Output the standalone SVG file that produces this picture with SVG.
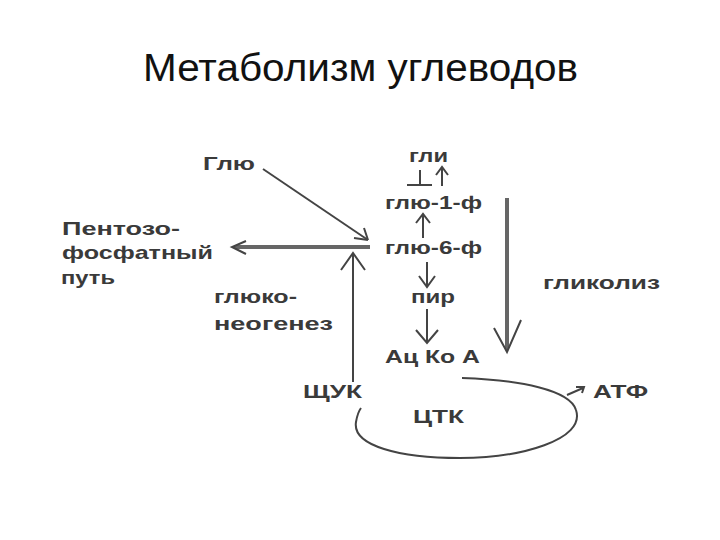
<svg xmlns="http://www.w3.org/2000/svg" width="720" height="540" viewBox="0 0 720 540">
<style>
.t{font-family:"Liberation Sans",Arial,sans-serif;font-weight:bold;font-size:19px;fill:#3a3a3a}
.title{font-family:"Liberation Sans",Arial,sans-serif;font-size:38px;fill:#111}
.ln{stroke:#444;stroke-width:2;fill:none}
.thick{stroke:#666;stroke-width:4;fill:none}
</style>
<rect width="720" height="540" fill="#fff"/>
<text class="title" x="143" y="81" textLength="435" lengthAdjust="spacingAndGlyphs">Метаболизм углеводов</text>
<g id="n-glu"><text class="t" x="203" y="170" textLength="52" lengthAdjust="spacingAndGlyphs">Глю</text></g>
<g id="n-gli"><text class="t" x="409" y="162" textLength="39" lengthAdjust="spacingAndGlyphs">гли</text></g>
<g id="n-g1p"><text class="t" x="385" y="209" textLength="97" lengthAdjust="spacingAndGlyphs">глю-1-ф</text></g>
<g id="n-g6p"><text class="t" x="385" y="254" textLength="97" lengthAdjust="spacingAndGlyphs">глю-6-ф</text></g>
<g id="n-pfp">
<text class="t" x="62" y="235" textLength="118" lengthAdjust="spacingAndGlyphs">Пентозо-</text>
<text class="t" x="62" y="259" textLength="151" lengthAdjust="spacingAndGlyphs">фосфатный</text>
<text class="t" x="61" y="284" textLength="54" lengthAdjust="spacingAndGlyphs">путь</text>
</g>
<g id="n-gng">
<text class="t" x="214" y="303" textLength="83" lengthAdjust="spacingAndGlyphs">глюко-</text>
<text class="t" x="214" y="330" textLength="119" lengthAdjust="spacingAndGlyphs">неогенез</text>
</g>
<g id="n-pir"><text class="t" x="411" y="303" textLength="44" lengthAdjust="spacingAndGlyphs">пир</text></g>
<g id="n-acoa"><text class="t" x="385" y="363" textLength="95" lengthAdjust="spacingAndGlyphs">Ац Ко А</text></g>
<g id="n-glycolysis"><text class="t" x="543" y="289" textLength="117" lengthAdjust="spacingAndGlyphs">гликолиз</text></g>
<g id="n-oaa"><text class="t" x="303" y="398" textLength="59" lengthAdjust="spacingAndGlyphs">ЩУК</text></g>
<g id="n-tca"><text class="t" x="413" y="423" textLength="51" lengthAdjust="spacingAndGlyphs">ЦТК</text></g>
<g id="n-atp"><text class="t" x="593" y="398" textLength="55" lengthAdjust="spacingAndGlyphs">АТФ</text></g>
<g id="connectors">
<!-- Glu to glu-6-P -->
<path class="ln" d="M263 169 L368 240"/>
<path class="ln" d="M368 240 L354 238 M368 240 L364 228"/>
<!-- gli <-> glu-1-P -->
<path class="ln" d="M420 170 V185 M407 185 H432"/>
<path class="ln" d="M442 186 V168 M436 175 L442 167 L448 175"/>
<!-- glu-6-P -> glu-1-P -->
<path class="ln" d="M423 238 V215 M416 223 L423 214 L430 223"/>
<!-- glu-6-P -> pentose phosphate -->
<path class="thick" d="M370 247 H234"/>
<path class="ln" d="M246 241 L232 247 L246 254"/>
<!-- glu-6-P -> pir -->
<path class="ln" d="M427 262 V286 M419 276 L427 287 L435 276"/>
<!-- pir -> AcCoA -->
<path class="ln" d="M427 309 V342 M416 330 L427 343 L438 330"/>
<!-- gluconeogenesis -->
<path class="ln" d="M353 382 V254 M341 270 L353 253 L365 270"/>
<!-- glycolysis -->
<path class="thick" d="M507 198 V350"/>
<path class="ln" d="M494 328 L507 352 L521 320"/>
<!-- TCA cycle -->
<path class="ln" d="M462 378 C520 380 570 390 576 410 C586 440 520 458 460 458 C400 458 352 446 356 422 C357 416 358 412 361 408"/>
<!-- ATP -->
<path class="ln" d="M567 395 L583 388 M576 387 L584 387 L582 393"/>
</g>
</svg>
